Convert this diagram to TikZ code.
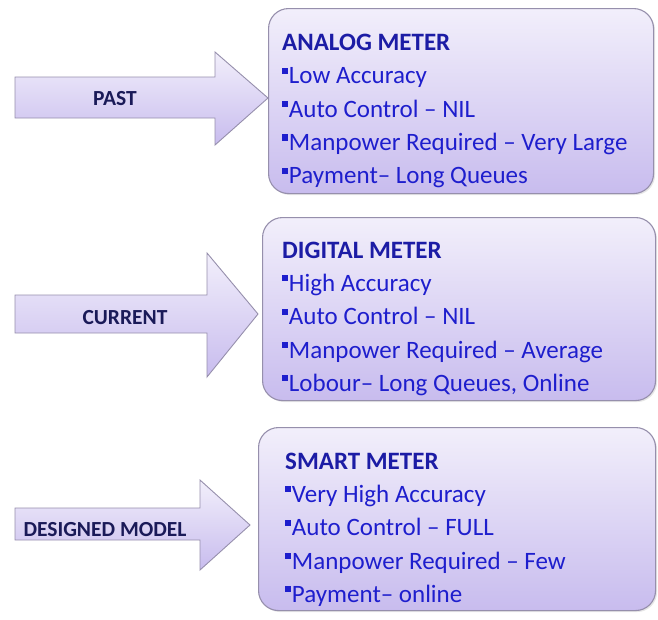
\documentclass[tikz,border=0pt]{standalone}
\usepackage{fontspec}
\setmainfont{Carlito}
\usepackage{tikz}
\usetikzlibrary{positioning,shadows}

\definecolor{boxtop}{RGB}{242,239,251}
\definecolor{boxbot}{RGB}{200,188,238}
\definecolor{boxline}{RGB}{150,143,172}
\definecolor{itemblue}{RGB}{30,30,205}
\definecolor{headblue}{RGB}{28,28,165}
\definecolor{labelnavy}{RGB}{26,26,88}

\newcommand{\bul}{\raisebox{0.4em}{\rule{0.24em}{0.24em}}\hspace{0.03em}}
\newcommand{\meterhead}[1]{{\bfseries\color{headblue}#1}}

\begin{document}
\begin{tikzpicture}[x=1pt,y=-1pt]
		\useasboundingbox (0,0) rectangle (658,619);

		% boxes on the right
		\begin{scope}[every node/.style={draw=boxline,line width=1.1pt,rounded corners=20pt,
		              top color=boxtop,bottom color=boxbot,anchor=north west,
		              drop shadow={opacity=0.2,shadow xshift=1.5pt,shadow yshift=-1.5pt}}]
		    \node[minimum width=385pt,minimum height=185pt] (analog) at (268,8) {};
		    \node[minimum width=393pt,minimum height=183pt] (digital) at (262,217) {};
		    \node[minimum width=397pt,minimum height=183pt] (smart) at (258,427) {};
		\end{scope}

		% arrows on the left
		\begin{scope}[every path/.style={draw=boxline,line width=0.9pt,
		              top color=boxtop,bottom color=boxbot}]
		    \path (15,77) -- (215,77) -- (215,52) -- (268,98) -- (215,145) -- (215,118) -- (15,118) -- cycle;
		    \path (15,295) -- (207,295) -- (207,253) -- (258,314) -- (207,377) -- (207,333) -- (15,333) -- cycle;
		    \path (15,508) -- (200,508) -- (200,480) -- (250,525) -- (200,570) -- (200,540) -- (15,540) -- cycle;
		\end{scope}

		\begin{scope}[every node/.style={font=\fontsize{21.5}{24}\selectfont\bfseries,text=labelnavy}]
		    \node (past) at (115,99) {PAST};
		    \node (current) at (125,318) {CURRENT};
		    \node (designed) at (105,530) {DESIGNED MODEL};
		\end{scope}

		% texts in the boxes
		\begin{scope}[every node/.style={inner sep=0pt,align=left,text=itemblue,
		              font=\fontsize{25}{33.3}\selectfont}]
		    \node[below right=26pt and 14pt of analog.north west] (analogtext)
		        {\meterhead{ANALOG METER}\\ \bul Low Accuracy\\ \bul Auto Control – NIL\\
		         \bul Manpower Required – Very Large\\ \bul Payment– Long Queues};
		    \node[below right=24.5pt and 20pt of digital.north west] (digitaltext)
		        {\meterhead{DIGITAL METER}\\ \bul High Accuracy\\ \bul Auto Control – NIL\\
		         \bul Manpower Required – Average\\ \bul Lobour– Long Queues, Online};
		    \node[below right=25.5pt and 27pt of smart.north west] (smarttext)
		        {\meterhead{SMART METER}\\ \bul Very High Accuracy\\ \bul Auto Control – FULL\\
		         \bul Manpower Required – Few\\ \bul Payment– online};
		\end{scope}
		\end{tikzpicture}
\end{document}
